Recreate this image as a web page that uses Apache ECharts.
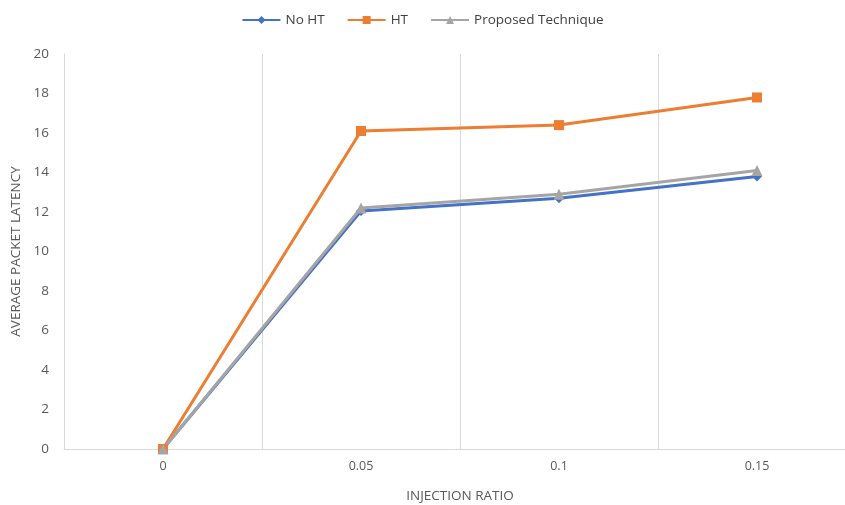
<!DOCTYPE html>
<html>
<head>
<meta charset="utf-8">
<script src="https://cdn.jsdelivr.net/npm/echarts@6/dist/echarts.min.js"></script>
<style>
  html, body { margin: 0; padding: 0; background: #fff; }
  #chart { width: 845px; height: 505px; }
</style>
</head>
<body>
<div id="chart"></div>
<script>
// Injection ratios on the category axis
const injectionRatios = ['0', '0.05', '0.1', '0.15'];

// Average packet latency per configuration
const noHT = [0, 12.05, 12.7, 13.8];
const withHT = [0, 16.1, 16.4, 17.8];
const proposed = [0, 12.2, 12.9, 14.1];

// Value axis ticks
const yMin = 0;
const yMax = 20;
const yStep = 2;

const FONT = 'Open Sans';
const chart = echarts.init(document.getElementById('chart'), null, { renderer: 'canvas' });

function lineSeries(name, data, color, symbol, size) {
  return {
    name: name,
    type: 'line',
    data: data,
    symbol: symbol,
    symbolSize: size,
    showSymbol: true,
    lineStyle: { color: color, width: 3 },
    itemStyle: { color: color },
    emphasis: { disabled: true },
    animation: false
  };
}

chart.setOption({
  backgroundColor: '#ffffff',
  textStyle: { fontFamily: FONT },
  legend: {
    top: 8,
    left: 'center',
    itemWidth: 38,
    itemHeight: 10,
    itemGap: 22,
    textStyle: { fontFamily: FONT, fontSize: 13.5, color: '#404040' },
    data: ['No HT', 'HT', 'Proposed Technique']
  },
  // plot runs a little past the right edge of the canvas
  grid: {
    left: 64, width: 792, top: 54, height: 395,
    containLabel: false,
    outerBoundsMode: 'none'
  },
  xAxis: {
    type: 'category',
    data: injectionRatios,
    boundaryGap: true,
    name: 'INJECTION RATIO',
    nameLocation: 'middle',
    nameGap: 40,
    nameTextStyle: { fontFamily: FONT, fontSize: 13.5, color: '#595959' },
    axisLine: { show: true, lineStyle: { color: '#d9d9d9', width: 1 } },
    axisTick: { show: false },
    axisLabel: { fontFamily: FONT, fontSize: 12.5, color: '#595959', margin: 11 },
    splitLine: { show: true, interval: 0, lineStyle: { color: '#d9d9d9', width: 1 } }
  },
  yAxis: {
    type: 'value',
    min: yMin,
    max: yMax,
    interval: yStep,
    name: 'AVERAGE PACKET LATENCY',
    nameLocation: 'middle',
    nameGap: 37,
    nameRotate: 90,
    nameTextStyle: { fontFamily: FONT, fontSize: 13.5, color: '#595959' },
    axisLine: { show: true, lineStyle: { color: '#d9d9d9', width: 1 } },
    axisTick: { show: false },
    axisLabel: { fontFamily: FONT, fontSize: 13.5, color: '#595959', margin: 15 },
    splitLine: { show: false }
  },
  series: [
    lineSeries('No HT', noHT, '#4472C4', 'diamond', 10),
    lineSeries('HT', withHT, '#ED7D31', 'rect', 10),
    lineSeries('Proposed Technique', proposed, '#A5A5A5', 'triangle', 11)
  ]
});
</script>
</body>
</html>
